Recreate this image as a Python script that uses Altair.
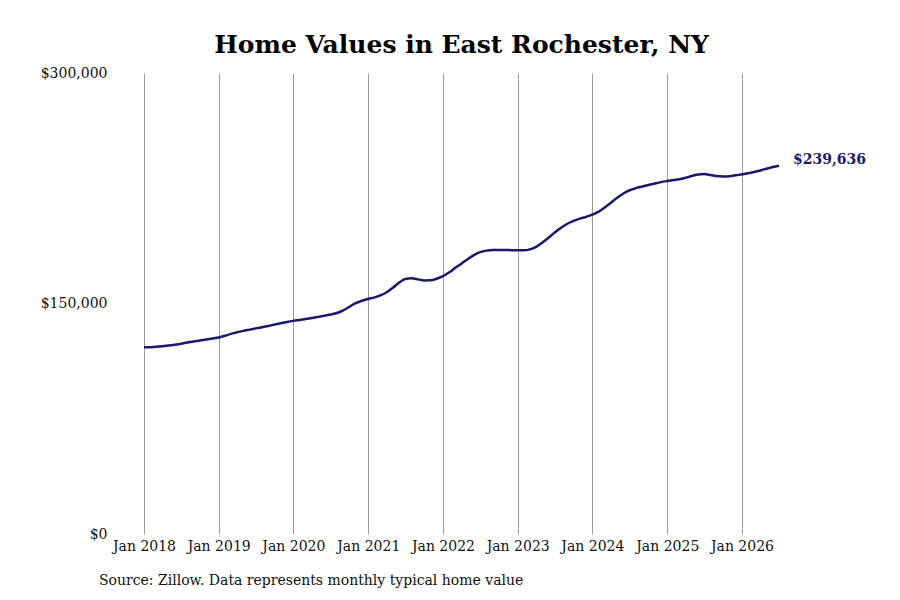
import altair as alt
import pandas as pd

years = [2018, 2019, 2020, 2021, 2022, 2023, 2024, 2025, 2026]
values_k = [
    # 2018
    121.5, 121.6, 121.8, 122.2, 122.7, 123.2, 123.8, 124.6, 125.3, 125.9, 126.6, 127.2,
    # 2019
    127.9, 129.0, 130.2, 131.3, 132.2, 133.0, 133.8, 134.6, 135.4, 136.3, 137.2, 138.0,
    # 2020
    138.7, 139.3, 139.9, 140.6, 141.3, 142.0, 142.8, 143.8, 145.5, 147.9, 150.2, 151.8,
    # 2021
    153.0, 154.0, 155.3, 157.3, 160.2, 163.6, 165.9, 166.4, 165.7, 165.0, 165.1, 166.1,
    # 2022
    167.8, 170.3, 173.1, 175.9, 178.8, 181.5, 183.4, 184.4, 184.8, 184.8, 184.8, 184.7,
    # 2023
    184.6, 184.6, 185.2, 186.9, 189.6, 192.8, 196.2, 199.3, 201.9, 203.8, 205.2, 206.4,
    # 2024
    207.8, 209.8, 212.5, 215.6, 218.8, 221.6, 223.7, 225.1, 226.1, 227.1, 228.1, 229.0,
    # 2025
    229.7, 230.3, 230.9, 231.8, 233.0, 234.0, 234.2, 233.6, 232.9, 232.6, 232.8, 233.4,
    # 2026
    234.1, 234.8, 235.6, 236.6, 237.7, 238.8, 239.636,
]
dates = pd.date_range("2018-01-01", periods=len(values_k), freq="MS").strftime("%Y-%m-%d").tolist()
y_ticks = [0, 150000, 300000]
title_text = "Home Values in East Rochester, NY"
source_text = "Source: Zillow. Data represents monthly typical home value"

df = pd.DataFrame({"date": dates, "value": [round(v * 1000) for v in values_k]})
last = df.tail(1).copy()
last["label"] = "${:,.0f}".format(last["value"].iloc[0])

FONT = "DejaVu Serif"
NAVY = "#18186c"
W, H = 635, 461

xenc = alt.X(
    "date:T",
    scale=alt.Scale(type="utc", domain=[dates[0], dates[-1]]),
    axis=alt.Axis(
        values=[alt.DateTime(year=y, month=1, date=1, utc=True) for y in years],
        labelExpr="utcFormat(datum.value, '%b %Y')",
        labelFlush=False,
        labelOverlap=False,
        grid=True,
        gridColor="#9a9a9a",
        gridWidth=1,
        domain=False,
        ticks=False,
        labelPadding=5,
        labelFont=FONT,
        labelFontSize=14,
        labelColor="#111111",
        title=None,
    ),
)
yenc = alt.Y(
    "value:Q",
    scale=alt.Scale(domain=[0, 300000], nice=False),
    axis=alt.Axis(
        values=y_ticks,
        format="$,.0f",
        grid=False,
        domain=False,
        ticks=False,
        labelPadding=37,
        labelFont=FONT,
        labelFontSize=14,
        labelColor="#111111",
        title=None,
    ),
)

line = alt.Chart(df).mark_line(color=NAVY, strokeWidth=2.5, interpolate="monotone").encode(x=xenc, y=yenc)

end_label = alt.Chart(last).mark_text(
    align="left", baseline="middle", dx=14, dy=-6, font=FONT, fontSize=14, fontWeight="bold", color=NAVY
).encode(x=xenc, y=yenc, text="label:N")

source = alt.Chart(pd.DataFrame({"t": [source_text]})).mark_text(
    align="left", baseline="middle", font=FONT, fontSize=14, color="#111111"
).encode(x=alt.value(-45), y=alt.value(H + 47), text="t:N")

chart = (
    alt.layer(line, end_label, source)
    .properties(
        width=W,
        height=H,
        background="white",
        title=alt.TitleParams(
            text=title_text,
            font=FONT,
            fontSize=25,
            fontWeight="bold",
            color="#000000",
            anchor="middle",
            offset=8,
        ),
        autosize=alt.AutoSizeParams(type="none"),
        padding={"left": 136, "top": 65, "right": 113, "bottom": 58},
    )
    .configure_view(strokeWidth=0, stroke="transparent")
)

chart.save("out.html", embed_options={"renderer": "svg", "actions": False})
